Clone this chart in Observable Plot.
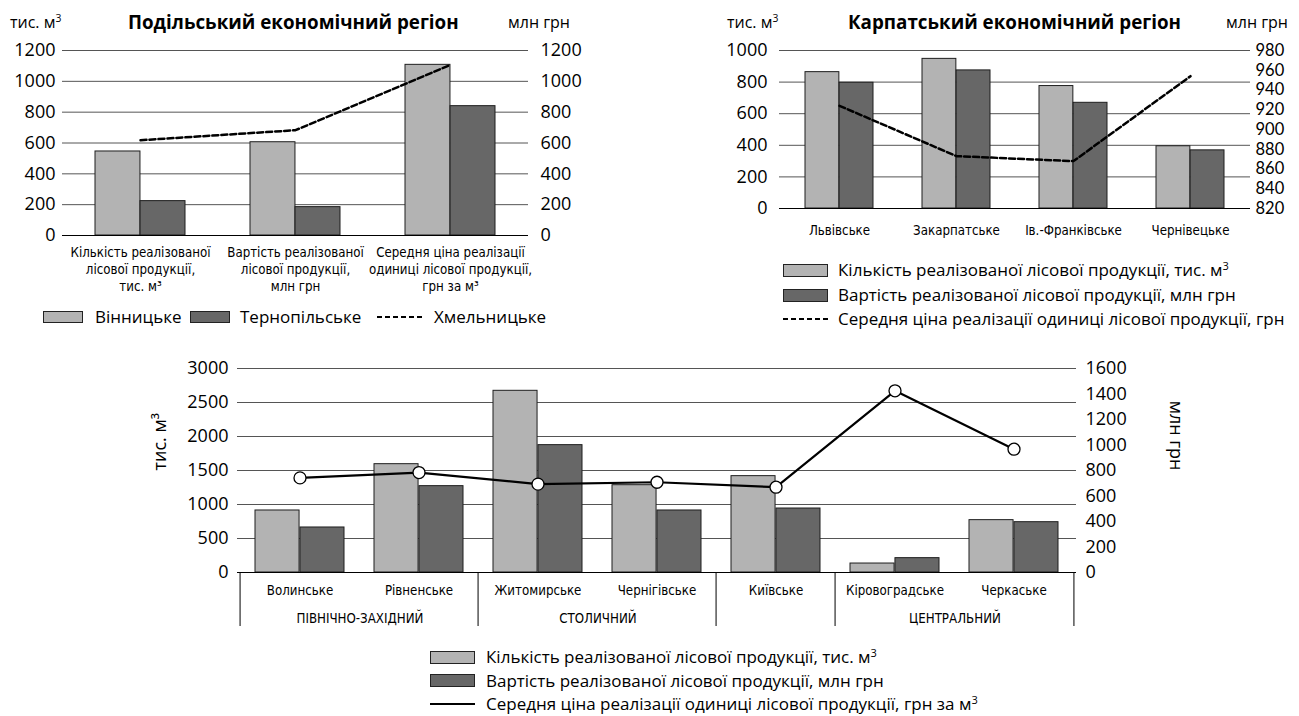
<!DOCTYPE html>
<html><head><meta charset="utf-8">
<script src="https://cdn.jsdelivr.net/npm/d3@7"></script>
<script src="https://cdn.jsdelivr.net/npm/@observablehq/plot@0.6"></script>
<style>
body{margin:0;background:#fff;font-family:"Open Sans",sans-serif;color:#000;}
#root{position:relative;width:1299px;height:716px;overflow:hidden;}
.abs{position:absolute;white-space:nowrap;line-height:18px;}
.hdr{font-size:16px;}
.ttl{font-size:18.8px;font-weight:bold;}
.leg{font-size:17px;}
.big{font-size:17px;}
sup{font-size:0.65em;vertical-align:0.55em;line-height:0;}
.sw{position:absolute;box-sizing:border-box;border:1px solid #222;}
.plot{position:absolute;}
</style></head><body><div id="root"></div><script>
// ---------- DATA ----------
// Подільський економічний регіон
const podMeasures = ["Кількість", "Вартість", "Середня ціна"];
const podLabels = ["Кількість реалізованої\nлісової продукції,\nтис. м³", "Вартість реалізованої\nлісової продукції,\nмлн грн", "Середня ціна реалізації\nодиниці лісової продукції,\nгрн за м³"];
const podSeries = ["Вінницьке", "Тернопільське", "Хмельницьке"];
const vinnytske = [545, 605, 1107];
const ternopilske = [223, 184, 839];
const khmelnytske = [618, 683, 1107];
const podTicks = [0, 200, 400, 600, 800, 1000, 1200];

// Карпатський економічний регіон
const karpOblasts = ["Львівське", "Закарпатське", "Ів.-Франківське", "Чернівецьке"];
const karpQuantity = [863, 947, 775, 394];
const karpValue = [796, 874, 669, 368];
const karpPrice = [924, 873, 868, 954];
const karpLeftTicks = [0, 200, 400, 600, 800, 1000];
const karpRightTicks = [820, 840, 860, 880, 900, 920, 940, 960, 980];

// Нижня діаграма
const cenOblasts = ["Волинське", "Рівненське", "Житомирське", "Чернігівське", "Київське", "Кіровоградське", "Черкаське"];
const cenQuantity = [912, 1593, 2672, 1284, 1417, 132, 770];
const cenValue = [662, 1270, 1873, 912, 941, 211, 740];
const cenPrice = [742, 784, 693, 708, 669, 1425, 967];
const cenGroups = ["ПІВНІЧНО-ЗАХІДНИЙ", "СТОЛИЧНИЙ", "", "ЦЕНТРАЛЬНИЙ"];
const cenGroupMembers = [["Волинське", "Рівненське"], ["Житомирське", "Чернігівське"], ["Київське"], ["Кіровоградське", "Черкаське"]];
const cenLeftTicks = [0, 500, 1000, 1500, 2000, 2500, 3000];
const cenRightTicks = [0, 200, 400, 600, 800, 1000, 1200, 1400, 1600];

const legendQuantity = "Кількість реалізованої лісової продукції, тис. м";
const legendValue = "Вартість реалізованої лісової продукції, млн грн";
const legendPriceKarp = "Середня ціна реалізації одиниці лісової продукції, грн";
const legendPriceCen = "Середня ціна реалізації одиниці лісової продукції, грн за м";

// ---------- STYLE ----------
const LIGHT = "#b3b3b3", DARK = "#676767", EDGE = "#1e1e1e", GRID = "#555";
function fontAvailable(name) {
  const c = document.createElement("canvas").getContext("2d");
  const s = "Кількість реалізованої 0123";
  c.font = "20px monospace"; const a = c.measureText(s).width;
  c.font = `20px '${name}', monospace`; const b = c.measureText(s).width;
  c.font = "20px serif"; const a2 = c.measureText(s).width;
  c.font = `20px '${name}', serif`; const b2 = c.measureText(s).width;
  return a !== b || a2 !== b2;
}
let NARROW = "'DejaVu Sans Condensed','DejaVu Sans',sans-serif", NSIZE = 13.2;
if (fontAvailable("Liberation Sans Narrow")) { NARROW = "'Liberation Sans Narrow',sans-serif"; NSIZE = 15.5; }
else if (fontAvailable("Noto Sans Condensed")) { NARROW = "'Noto Sans Condensed',sans-serif"; NSIZE = 14; }
else if (fontAvailable("DejaVu Sans Condensed")) { NARROW = "'DejaVu Sans Condensed',sans-serif"; NSIZE = 13.2; }
const fmt = d => String(d);
const root = document.getElementById("root");

function narrowize(chart) {
  d3.select(chart).selectAll('g[aria-label="x-axis tick label"]')
    .style("font-family", NARROW).style("font-stretch", "condensed").style("font-size", NSIZE + "px");
}
function place(el, left, top) {
  el.classList.add("plot");
  el.style.left = left + "px";
  el.style.top = top + "px";
  root.appendChild(el);
}
function txt(html, cls, left, cy) {
  const d = document.createElement("div");
  d.className = "abs " + cls;
  d.innerHTML = html;
  d.style.left = left + "px";
  d.style.top = (cy - 9) + "px";
  root.appendChild(d);
  return d;
}
function swatch(color, left, cy, w, h) {
  const d = document.createElement("div");
  d.className = "sw";
  d.style.background = color;
  d.style.left = left + "px";
  d.style.top = (cy - h / 2) + "px";
  d.style.width = w + "px";
  d.style.height = h + "px";
  root.appendChild(d);
}
function lineSwatch(left, cy, w, dash, sw) {
  const ns = "http://www.w3.org/2000/svg";
  const s = document.createElementNS(ns, "svg");
  s.setAttribute("width", w); s.setAttribute("height", 6);
  s.style.position = "absolute"; s.style.left = left + "px"; s.style.top = (cy - 3) + "px";
  const l = document.createElementNS(ns, "line");
  l.setAttribute("x1", 0); l.setAttribute("x2", w); l.setAttribute("y1", 3); l.setAttribute("y2", 3);
  l.setAttribute("stroke", "#000"); l.setAttribute("stroke-width", sw);
  if (dash) l.setAttribute("stroke-dasharray", dash);
  s.appendChild(l);
  root.appendChild(s);
}
const baseStyle = {fontFamily: "'Open Sans',sans-serif", fontSize: "18px", background: "transparent", overflow: "visible", color: "#000"};

// ---------- CHART 1: Подільський ----------
{
  const W = 560, H = 275, ml = 62, mr = 32, mt = 20, mb = 70, pad = 0.42;
  const step = (W - ml - mr) / podMeasures.length;
  const half = step * (1 - pad) / 2;
  const rows = podMeasures.map((m, i) => ({m, v: vinnytske[i], t: ternopilske[i], k: khmelnytske[i]}));
  const chart = Plot.plot({
    width: W, height: H, marginLeft: ml, marginRight: mr, marginTop: mt, marginBottom: mb,
    style: baseStyle,
    x: {domain: podMeasures, paddingInner: pad, paddingOuter: pad / 2, axis: null, label: null},
    y: {domain: [0, 1200], axis: null, label: null},
    marks: [
      Plot.gridY(podTicks.slice(1), {stroke: GRID, strokeOpacity: 1}),
      Plot.barY(rows, {x: "m", y: "v", fill: LIGHT, stroke: EDGE, strokeWidth: 1, insetRight: half}),
      Plot.barY(rows, {x: "m", y: "t", fill: DARK, stroke: EDGE, strokeWidth: 1, insetLeft: half}),
      Plot.ruleY([0], {stroke: "#000"}),
      Plot.line(rows, {x: "m", y: "k", stroke: "#000", strokeWidth: 2.5, strokeDasharray: "6,3"}),
      Plot.axisY(podTicks, {anchor: "left", tickSize: 0, tickPadding: 7, label: null, tickFormat: fmt}),
      Plot.axisY(podTicks, {anchor: "right", tickSize: 0, tickPadding: 12, label: null, tickFormat: fmt}),
      Plot.axisX(podMeasures, {anchor: "bottom", tickSize: 0, tickPadding: 9, label: null,
        tickFormat: d => podLabels[podMeasures.indexOf(d)], lineHeight: 1.3})
    ]
  });
  narrowize(chart);
  place(chart, 0, 30);
  txt("тис. м<sup>3</sup>", "hdr", 10, 22);
  txt("Подільський економічний регіон", "ttl", 128, 22);
  txt("млн грн", "hdr", 508, 22);
  swatch(LIGHT, 43, 317, 40, 12);
  txt(podSeries[0], "big", 95, 317);
  swatch(DARK, 190, 317, 40, 12);
  txt(podSeries[1], "big", 240, 317);
  lineSwatch(377, 317, 48, "5,3", 2);
  txt(podSeries[2], "big", 434, 317);
}

// ---------- CHART 2: Карпатський ----------
{
  const W = 599, H = 230, ml = 79, mr = 49, mt = 20, mb = 52, pad = 0.42;
  const step = (W - ml - mr) / karpOblasts.length;
  const half = step * (1 - pad) / 2;
  const toLeft = v => (v - 820) / 160 * 1000;
  const fromLeft = v => String(Math.round(820 + v * 160 / 1000));
  const rows = karpOblasts.map((o, i) => ({o, q: karpQuantity[i], v: karpValue[i], p: karpPrice[i]}));
  const chart = Plot.plot({
    width: W, height: H, marginLeft: ml, marginRight: mr, marginTop: mt, marginBottom: mb,
    style: baseStyle,
    x: {domain: karpOblasts, paddingInner: pad, paddingOuter: pad / 2, axis: null, label: null},
    y: {domain: [0, 1000], axis: null, label: null},
    marks: [
      Plot.gridY(karpLeftTicks.slice(1), {stroke: GRID, strokeOpacity: 1}),
      Plot.barY(rows, {x: "o", y: "q", fill: LIGHT, stroke: EDGE, strokeWidth: 1, insetRight: half}),
      Plot.barY(rows, {x: "o", y: "v", fill: DARK, stroke: EDGE, strokeWidth: 1, insetLeft: half}),
      Plot.ruleY([0], {stroke: "#000"}),
      Plot.line(rows, {x: "o", y: d => toLeft(d.p), stroke: "#000", strokeWidth: 2.5, strokeDasharray: "6,3"}),
      Plot.axisY(karpLeftTicks, {anchor: "left", tickSize: 0, tickPadding: 12, label: null, tickFormat: fmt}),
      Plot.axisY(karpRightTicks.map(toLeft), {anchor: "right", tickSize: 0, tickPadding: 5, label: null, tickFormat: fromLeft, fontFamily: "Lato, 'Open Sans', sans-serif", fontSize: 16.5}),
      Plot.axisX(karpOblasts, {anchor: "bottom", tickSize: 0, tickPadding: 17, label: null})
    ]
  });
  narrowize(chart);
  place(chart, 700, 30);
  txt("тис. м<sup>3</sup>", "hdr", 727, 22);
  txt("Карпатський економічний регіон", "ttl", 848, 22);
  txt("млн грн", "hdr", 1226, 22);
  swatch(LIGHT, 783, 270, 45, 13);
  txt(legendQuantity + "<sup>3</sup>", "leg", 838, 270);
  swatch(DARK, 783, 295, 45, 13);
  txt(legendValue, "leg", 838, 295);
  lineSwatch(783, 319, 45, "5,3", 2);
  txt(legendPriceKarp, "leg", 838, 319);
}

// ---------- CHART 3: нижня ----------
{
  const W = 1050, H = 290, ml = 87, mr = 124, mt = 18, mb = 68, pad = 0.25;
  const step = (W - ml - mr) / cenOblasts.length;
  const half = step * (1 - pad) / 2;
  const toLeft = v => v * 3000 / 1600;
  const fromLeft = v => String(Math.round(v * 1600 / 3000));
  const rows = cenOblasts.map((o, i) => ({o, q: cenQuantity[i], v: cenValue[i], p: cenPrice[i]}));
  const groups = cenGroups.map((g, i) => ({g, first: cenGroupMembers[i][0], n: cenGroupMembers[i].length}));
  const chart = Plot.plot({
    width: W, height: H, marginLeft: ml, marginRight: mr, marginTop: mt, marginBottom: mb,
    style: baseStyle,
    x: {domain: cenOblasts, paddingInner: pad, paddingOuter: pad / 2, axis: null, label: null},
    y: {domain: [0, 3000], axis: null, label: null},
    marks: [
      Plot.gridY(cenLeftTicks.slice(1), {stroke: GRID, strokeOpacity: 1}),
      Plot.barY(rows, {x: "o", y: "q", fill: LIGHT, stroke: EDGE, strokeWidth: 1, insetRight: half}),
      Plot.barY(rows, {x: "o", y: "v", fill: DARK, stroke: EDGE, strokeWidth: 1, insetLeft: half}),
      Plot.ruleY([0], {stroke: "#000"}),
      Plot.ruleX(groups, {x: "first", y1: () => 0, y2: () => 0, dx: -step / 2, insetBottom: -54, stroke: "#000"}),
      Plot.ruleX([cenOblasts[cenOblasts.length - 1]], {x: d => d, y1: () => 0, y2: () => 0, dx: step / 2, insetBottom: -54, stroke: "#000"}),
      Plot.line(rows, {x: "o", y: d => toLeft(d.p), stroke: "#000", strokeWidth: 2.2}),
      Plot.dot(rows, {x: "o", y: d => toLeft(d.p), r: 6, fill: "#fff", stroke: "#000", strokeWidth: 1.3}),
      Plot.axisY(cenLeftTicks, {anchor: "left", tickSize: 0, tickPadding: 9, label: null, tickFormat: fmt}),
      Plot.axisY(cenRightTicks.map(toLeft), {anchor: "right", tickSize: 0, tickPadding: 9, label: null, tickFormat: fromLeft}),
      Plot.axisX(cenOblasts, {anchor: "bottom", tickSize: 0, tickPadding: 13, label: null}),
      Plot.text(groups.filter(d => d.g && d.n === 2), {x: "first", text: "g", frameAnchor: "bottom", dx: step / 2, dy: 50, fontFamily: NARROW, fontSize: NSIZE}),
      Plot.text(["тис. м³"], {text: d => d, frameAnchor: "left", rotate: -90, dx: -77, fontSize: 18}),
      Plot.text(["млн грн"], {text: d => d, frameAnchor: "right", rotate: 90, dx: 99, fontSize: 18})
    ]
  });
  narrowize(chart);
  place(chart, 150, 350);
  swatch(LIGHT, 430, 657, 45, 13);
  txt(legendQuantity + "<sup>3</sup>", "leg", 486, 657);
  swatch(DARK, 430, 680.5, 45, 13);
  txt(legendValue, "leg", 486, 680.5);
  lineSwatch(430, 704, 45, null, 2.2);
  txt(legendPriceCen + "<sup>3</sup>", "leg", 486, 704);
}
</script></body></html>
